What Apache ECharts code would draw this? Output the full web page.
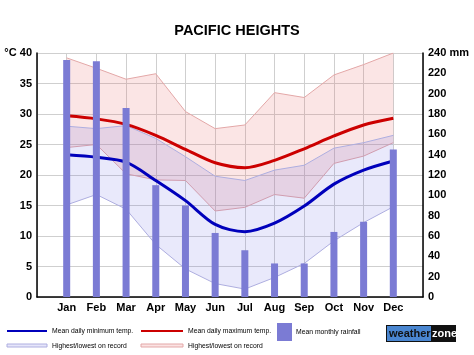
<!DOCTYPE html>
<html>
<head>
<meta charset="utf-8">
<title>Pacific Heights climate</title>
<script src="https://cdn.jsdelivr.net/npm/echarts@6/dist/echarts.min.js"></script>
<style>
  html, body { margin: 0; padding: 0; background: #fff; }
  #container { width: 474px; height: 355px; }
</style>
</head>
<body>
<div id="container"></div>
<script>
// month names
var months = ['Jan', 'Feb', 'Mar', 'Apr', 'May', 'Jun', 'Jul', 'Aug', 'Sep', 'Oct', 'Nov', 'Dec'];
// mean daily max / min temp (°C)
var maxTemp = [29.7, 29.2, 28.3, 26.5, 24.2, 22.0, 21.2, 22.4, 24.3, 26.4, 28.2, 29.3];
var minTemp = [23.3, 22.9, 22.1, 19.1, 15.8, 11.9, 10.7, 12.1, 14.9, 18.5, 20.8, 22.3];
// highest / lowest on record for max temp
var maxHigh = [39.2, 37.5, 35.7, 36.6, 30.4, 27.6, 28.2, 33.5, 32.7, 36.4, 38.1, 40.0];
var maxLow  = [24.5, 25.0, 20.2, 19.2, 19.1, 14.1, 14.7, 16.8, 16.2, 21.9, 23.1, 25.3];
// highest / lowest on record for min temp
var minHigh = [28.0, 27.6, 28.1, 26.0, 23.0, 19.8, 19.1, 20.8, 21.6, 24.4, 25.3, 26.5];
var minLow  = [15.1, 16.8, 14.4, 8.6, 4.6, 2.2, 1.3, 3.2, 5.5, 9.2, 12.2, 14.8];
// mean monthly rainfall (mm)
var rain = [233, 232, 186, 110, 90, 63, 46, 33, 33, 64, 74, 145];

// pad one empty slot on each side so months sit between the axes
function pad(arr) { return [null].concat(arr, [null]); }
function diff(a, b) { return a.map(function (v, i) { return +(v - b[i]).toFixed(1); }); }

var cats = [''].concat(months, ['']);
var fontFam = 'Liberation Sans, Arial, sans-serif';
var legFont = '8px Liberation Sans, Arial, sans-serif';

// small squeezed legend label
function legText(x, y, txt) {
    return {
        type: 'text', x: x, y: y, scaleX: 0.85,
        style: { text: txt, font: legFont, fill: '#000', textVerticalAlign: 'middle' }
    };
}

var myChart = echarts.init(document.getElementById('container'));

var option = {
    animation: false,
    backgroundColor: '#fff',
    title: {
        text: 'PACIFIC HEIGHTS',
        left: 'center',
        top: 18,
        textStyle: { fontFamily: fontFam, fontSize: 14.5, fontWeight: 'bold', color: '#000' }
    },
    grid: { left: 37, right: 51, top: 53, bottom: 58 },
    xAxis: {
        type: 'category',
        data: cats,
        boundaryGap: false,
        axisLine: { lineStyle: { color: '#000', width: 1.5 } },
        axisTick: { show: false },
        axisLabel: {
            interval: 0, margin: 5,
            fontFamily: fontFam, fontSize: 11, fontWeight: 'bold', color: '#000'
        },
        splitLine: { show: true, interval: 0, lineStyle: { color: '#cfcfcf' } }
    },
    yAxis: [{
        type: 'value',
        min: 0, max: 40, interval: 5,
        axisLine: { show: true, lineStyle: { color: '#000', width: 1.5 } },
        axisTick: { show: false },
        axisLabel: {
            margin: 5, fontFamily: fontFam, fontSize: 11, fontWeight: 'bold', color: '#000',
            formatter: function (v) { return v === 40 ? '°C 40' : v; }
        },
        splitLine: { lineStyle: { color: '#cfcfcf' } }
    }, {
        type: 'value',
        min: 0, max: 240, interval: 20,
        position: 'right',
        axisLine: { show: true, lineStyle: { color: '#000', width: 1.5 } },
        axisTick: { show: false },
        axisLabel: {
            margin: 5, fontFamily: fontFam, fontSize: 11, fontWeight: 'bold', color: '#000',
            formatter: function (v) { return v === 240 ? '240 mm' : v; }
        },
        splitLine: { show: false }
    }],
    series: [
        // red band (record range of max temp)
        {
            type: 'line', stack: 'red', data: pad(maxLow), symbol: 'none', z: 1,
            lineStyle: { color: '#e3a7a7', width: 1 }
        },
        {
            type: 'line', stack: 'red', data: pad(diff(maxHigh, maxLow)), symbol: 'none', z: 1,
            lineStyle: { color: '#e3a7a7', width: 1 },
            areaStyle: { color: 'rgba(235,110,110,0.25)' }
        },
        // blue band (record range of min temp)
        {
            type: 'line', stack: 'blue', data: pad(minLow), symbol: 'none', z: 2,
            lineStyle: { color: '#aeaee0', width: 1 }
        },
        {
            type: 'line', stack: 'blue', data: pad(diff(minHigh, minLow)), symbol: 'none', z: 2,
            lineStyle: { color: '#aeaee0', width: 1 },
            areaStyle: { color: 'rgba(100,100,225,0.2)' }
        },
        // mean lines
        {
            name: 'Mean daily maximum temp.', type: 'line', data: pad(maxTemp),
            symbol: 'none', smooth: 0.3, z: 3,
            lineStyle: { color: '#cc0000', width: 3 }
        },
        {
            name: 'Mean daily minimum temp.', type: 'line', data: pad(minTemp),
            symbol: 'none', smooth: 0.3, z: 3,
            lineStyle: { color: '#0000bb', width: 3 }
        },
        // rainfall bars
        {
            name: 'Mean monthly rainfall', type: 'bar', yAxisIndex: 1, data: pad(rain),
            barWidth: 7, z: 4,
            itemStyle: { color: '#7b7bd4' }
        }
    ],
    graphic: [
        // legend row 1
        { type: 'rect', shape: { x: 7, y: 330, width: 40, height: 2 }, style: { fill: '#0000bb' } },
        legText(52, 331, 'Mean daily minimum temp.'),
        { type: 'rect', shape: { x: 141, y: 330, width: 42, height: 2 }, style: { fill: '#cc0000' } },
        legText(188, 331, 'Mean daily maximum temp.'),
        // legend row 2
        { type: 'rect', shape: { x: 7, y: 344, width: 40, height: 3 }, style: { fill: '#e6e6fa', stroke: '#aeaee0', lineWidth: 1 } },
        legText(52, 346, 'Highest/lowest on record'),
        { type: 'rect', shape: { x: 141, y: 344, width: 42, height: 3 }, style: { fill: '#fbe3e3', stroke: '#e3a7a7', lineWidth: 1 } },
        legText(188, 346, 'Highest/lowest on record'),
        // rainfall legend
        { type: 'rect', shape: { x: 277, y: 323, width: 15, height: 18 }, style: { fill: '#7b7bd4' } },
        legText(296, 332, 'Mean monthly rainfall'),
        // weatherzone logo
        { type: 'rect', shape: { x: 386, y: 325, width: 70, height: 17 }, style: { fill: '#111' } },
        { type: 'rect', shape: { x: 387, y: 326, width: 44, height: 15 }, style: { fill: '#4a86d0' } },
        { type: 'text', x: 389, y: 334, style: { text: 'weather', font: 'bold 11px ' + fontFam, fill: '#111', textVerticalAlign: 'middle' } },
        { type: 'text', x: 432, y: 334, style: { text: 'zone', font: 'bold 11px ' + fontFam, fill: '#fff', textVerticalAlign: 'middle' } }
    ]
};

myChart.setOption(option);
</script>
</body>
</html>
